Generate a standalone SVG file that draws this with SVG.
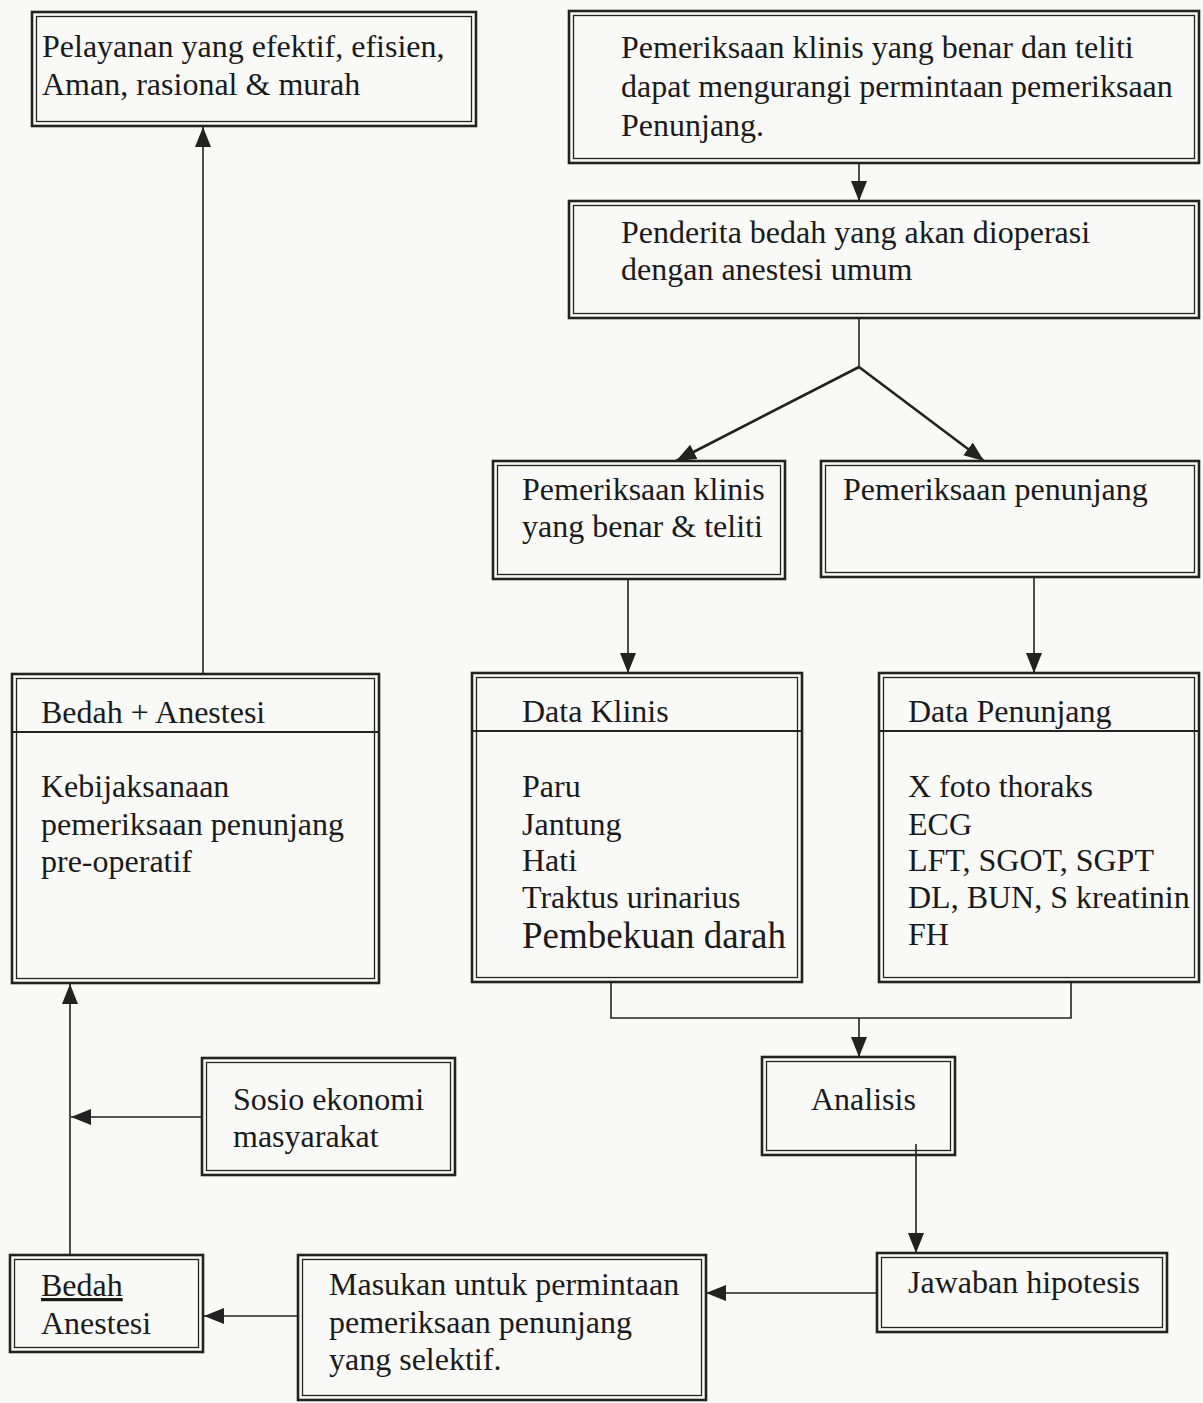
<svg xmlns="http://www.w3.org/2000/svg" width="1203" height="1403" viewBox="0 0 1203 1403">
<style>
.o{fill:none;stroke:#222;stroke-width:2.6}
.i{fill:none;stroke:#222;stroke-width:1.3}
.dv{stroke:#222;stroke-width:2.2}
.t{font-family:"Liberation Serif","Times New Roman",serif;font-size:32px;fill:#1a1a1a}
.big{font-size:37px}
.c{fill:none;stroke:#222;stroke-width:1.6}
.d{fill:none;stroke:#222;stroke-width:2.6}
</style>
<defs>
<marker id="ah" markerWidth="20" markerHeight="16" refX="20" refY="8" orient="auto" markerUnits="userSpaceOnUse"><path d="M0,0 L20,8 L0,16 z" fill="#222"/></marker>
</defs>
<rect width="1203" height="1403" fill="#f9f9f7"/>
<g id="connectors">
<line class="c" x1="859" y1="163" x2="859" y2="201" marker-end="url(#ah)"/>
<polyline class="c" points="859,318 859,367"/>
<line class="d" x1="859" y1="367" x2="676" y2="461" marker-end="url(#ah)"/>
<line class="d" x1="859" y1="367" x2="984" y2="461" marker-end="url(#ah)"/>
<line class="c" x1="628" y1="579" x2="628" y2="673" marker-end="url(#ah)"/>
<line class="c" x1="1034" y1="577" x2="1034" y2="673" marker-end="url(#ah)"/>
<polyline class="c" points="611,982 611,1018 1071,1018 1071,982"/>
<line class="c" x1="859" y1="1018" x2="859" y2="1057" marker-end="url(#ah)"/>
<line class="c" x1="916" y1="1144" x2="916" y2="1253" marker-end="url(#ah)"/>
<line class="c" x1="877" y1="1293" x2="706" y2="1293" marker-end="url(#ah)"/>
<line class="c" x1="298" y1="1316" x2="204" y2="1316" marker-end="url(#ah)"/>
<line class="c" x1="70" y1="1255" x2="70" y2="984" marker-end="url(#ah)"/>
<line class="c" x1="202" y1="1117" x2="71" y2="1117" marker-end="url(#ah)"/>
<line class="c" x1="203" y1="674" x2="203" y2="127" marker-end="url(#ah)"/>
</g>
<g id="n-pelayanan">
<rect class="o" x="32" y="12" width="444" height="114"/>
<rect class="i" x="36.5" y="16.5" width="435" height="105"/>
<text class="t" x="42" y="57">Pelayanan yang efektif, efisien,</text>
<text class="t" x="42" y="95">Aman, rasional &amp; murah</text>
</g>
<g id="n-klinis-teliti">
<rect class="o" x="569" y="11" width="630" height="152"/>
<rect class="i" x="573.5" y="15.5" width="621" height="143"/>
<text class="t" x="621" y="58">Pemeriksaan klinis yang benar dan teliti</text>
<text class="t" x="621" y="97">dapat mengurangi permintaan pemeriksaan</text>
<text class="t" x="621" y="136">Penunjang.</text>
</g>
<g id="n-penderita">
<rect class="o" x="569" y="201" width="630" height="117"/>
<rect class="i" x="573.5" y="205.5" width="621" height="108"/>
<text class="t" x="621" y="243">Penderita bedah yang akan dioperasi</text>
<text class="t" x="621" y="280">dengan anestesi umum</text>
</g>
<g id="n-pem-klinis">
<rect class="o" x="493" y="461" width="292" height="118"/>
<rect class="i" x="497.5" y="465.5" width="283" height="109"/>
<text class="t" x="522" y="500">Pemeriksaan klinis</text>
<text class="t" x="522" y="537">yang benar &amp; teliti</text>
</g>
<g id="n-pem-penunjang">
<rect class="o" x="821" y="461" width="378" height="116"/>
<rect class="i" x="825.5" y="465.5" width="369" height="107"/>
<text class="t" x="843" y="500">Pemeriksaan penunjang</text>
</g>
<g id="n-data-klinis">
<rect class="o" x="472" y="673" width="330" height="309"/>
<rect class="i" x="476.5" y="677.5" width="321" height="300"/>
<line class="dv" x1="472" y1="731" x2="802" y2="731"/>
<text class="t" x="522" y="722">Data Klinis</text>
<text class="t" x="522" y="797">Paru</text>
<text class="t" x="522" y="835">Jantung</text>
<text class="t" x="522" y="871">Hati</text>
<text class="t" x="522" y="908">Traktus urinarius</text>
<text class="t big" x="522" y="948">Pembekuan darah</text>
</g>
<g id="n-data-penunjang">
<rect class="o" x="879" y="673" width="320" height="309"/>
<rect class="i" x="883.5" y="677.5" width="311" height="300"/>
<line class="dv" x1="879" y1="731" x2="1199" y2="731"/>
<text class="t" x="908" y="722">Data Penunjang</text>
<text class="t" x="908" y="797">X foto thoraks</text>
<text class="t" x="908" y="835">ECG</text>
<text class="t" x="908" y="871">LFT, SGOT, SGPT</text>
<text class="t" x="908" y="908">DL, BUN, S kreatinin</text>
<text class="t" x="908" y="945">FH</text>
</g>
<g id="n-bedah-anestesi">
<rect class="o" x="12" y="674" width="367" height="309"/>
<rect class="i" x="16.5" y="678.5" width="358" height="300"/>
<line class="dv" x1="12" y1="732" x2="379" y2="732"/>
<text class="t" x="41" y="723">Bedah + Anestesi</text>
<text class="t" x="41" y="797">Kebijaksanaan</text>
<text class="t" x="41" y="835">pemeriksaan penunjang</text>
<text class="t" x="41" y="872">pre-operatif</text>
</g>
<g id="n-analisis">
<rect class="o" x="762" y="1057" width="193" height="98"/>
<rect class="i" x="766.5" y="1061.5" width="184" height="89"/>
<text class="t" x="811" y="1110">Analisis</text>
</g>
<g id="n-jawaban">
<rect class="o" x="877" y="1253" width="290" height="79"/>
<rect class="i" x="881.5" y="1257.5" width="281" height="70"/>
<text class="t" x="908" y="1293">Jawaban hipotesis</text>
</g>
<g id="n-masukan">
<rect class="o" x="298" y="1255" width="408" height="145"/>
<rect class="i" x="302.5" y="1259.5" width="399" height="136"/>
<text class="t" x="329" y="1295">Masukan untuk permintaan</text>
<text class="t" x="329" y="1333">pemeriksaan penunjang</text>
<text class="t" x="329" y="1370">yang selektif.</text>
</g>
<g id="n-sosio">
<rect class="o" x="202" y="1058" width="253" height="117"/>
<rect class="i" x="206.5" y="1062.5" width="244" height="108"/>
<text class="t" x="233" y="1110">Sosio ekonomi</text>
<text class="t" x="233" y="1147">masyarakat</text>
</g>
<g id="n-bedah">
<rect class="o" x="10" y="1255" width="193" height="97"/>
<rect class="i" x="14.5" y="1259.5" width="184" height="88"/>
<text class="t" x="41" y="1296" text-decoration="underline">Bedah</text>
<text class="t" x="41" y="1334">Anestesi</text>
</g>
</svg>
